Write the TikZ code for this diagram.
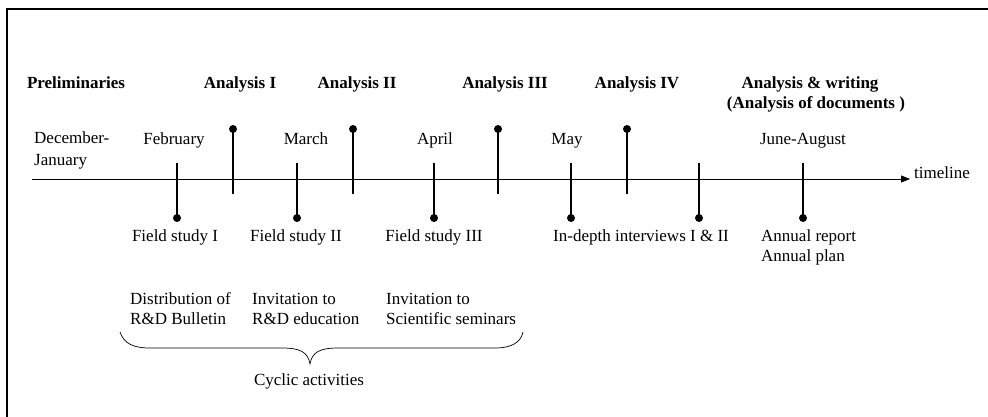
\documentclass[tikz,border=0pt]{standalone}
\usepackage{fontspec}
\setmainfont{Liberation Serif}
\usetikzlibrary{arrows.meta}
\begin{document}
\begin{tikzpicture}[x=1pt,y=-1pt,
  txt/.style={inner sep=0pt,anchor=base,font=\fontsize{17}{20}\selectfont},
  head/.style={txt,font=\fontsize{17}{20}\selectfont\bfseries},
  multi/.style={inner sep=0pt,align=left,anchor=west,font=\fontsize{17}{20}\selectfont},
  tick/.style={line width=1.6pt},
  pin/.style={circle,fill=black,inner sep=0pt,minimum size=8pt}]
\useasboundingbox (0,0) rectangle (988,416);
% frame (only its top and left edges fall inside the page)
\draw[line width=2pt] (7,440) -- (7,9) -- (1000,9);

% time axis
\coordinate (axL) at (32,179);
\coordinate (axR) at (910,179);
\draw[line width=0.8pt,-{Triangle[length=9pt,width=7pt]}] (axL) -- (axR);
\node[txt,anchor=base west] (tl) at (914,178) {timeline};

% phase headings
\node[head] (pre) at (76,88) {Preliminaries};
\node[head] (a1) at (240,88) {Analysis I};
\node[head] (a2) at (357,88) {Analysis II};
\node[head] (a3) at (505,88) {Analysis III};
\node[head] (a4) at (637,88) {Analysis IV};
\node[head] (aw) at (810,88) {Analysis \& writing};
\node[head] (aw2) at (816,108) {(Analysis of documents )};

% months
\node[multi,font=\fontsize{17}{22}\selectfont] (dj) at (34,150) {December-\\January};
\node[txt] (feb) at (174,144) {February};
\node[txt] (mar) at (306,144) {March};
\node[txt] (apr) at (435,144) {April};
\node[txt] (may) at (567,144) {May};
\node[txt] (ja) at (803,144) {June-August};

% pins above the axis (analysis rounds)
\foreach \n/\x in {p1/233,p2/353,p3/498,p4/627}{
  \node[pin] (\n) at (\x,129) {};
  \coordinate (\n b) at (\x,194);
  \draw[tick] (\n.center) -- (\n b);
}

% pins below the axis (field work)
\foreach \n/\x in {q1/177,q2/297,q3/434,q4/571,q5/699,q6/803}{
  \coordinate (\n t) at (\x,163);
  \node[pin] (\n) at (\x,218) {};
  \draw[tick] (\n t) -- (\n.center);
}

% field work labels
\node[txt] (f1) at (175,241) {Field study I};
\node[txt] (f2) at (296,241) {Field study II};
\node[txt] (f3) at (434,241) {Field study III};
\node[txt] (iv) at (641,241) {In-depth interviews I \& II};
\node[multi] (ar) at (761,247) {Annual report\\Annual plan};

% cyclic activities
\node[multi] (c1) at (130,309) {Distribution of\\R\&D Bulletin};
\node[multi] (c2) at (252,309) {Invitation to\\R\&D education};
\node[multi] (c3) at (386,309) {Invitation to\\Scientific seminars};

\coordinate (bl) at (120,332);
\coordinate (bt) at (310,364);
\coordinate (br) at (523,332);
\draw[line width=0.7pt] (bl) .. controls (124,344) and (134,348) .. (150,348)
  -- (282,348) .. controls (300,348) and (308,352) .. (bt)
  .. controls (312,352) and (320,348) .. (338,348)
  -- (495,348) .. controls (512,348) and (521,342) .. (br);
\node[txt] (cyc) at (309,385) {Cyclic activities};
\end{tikzpicture}
\end{document}
